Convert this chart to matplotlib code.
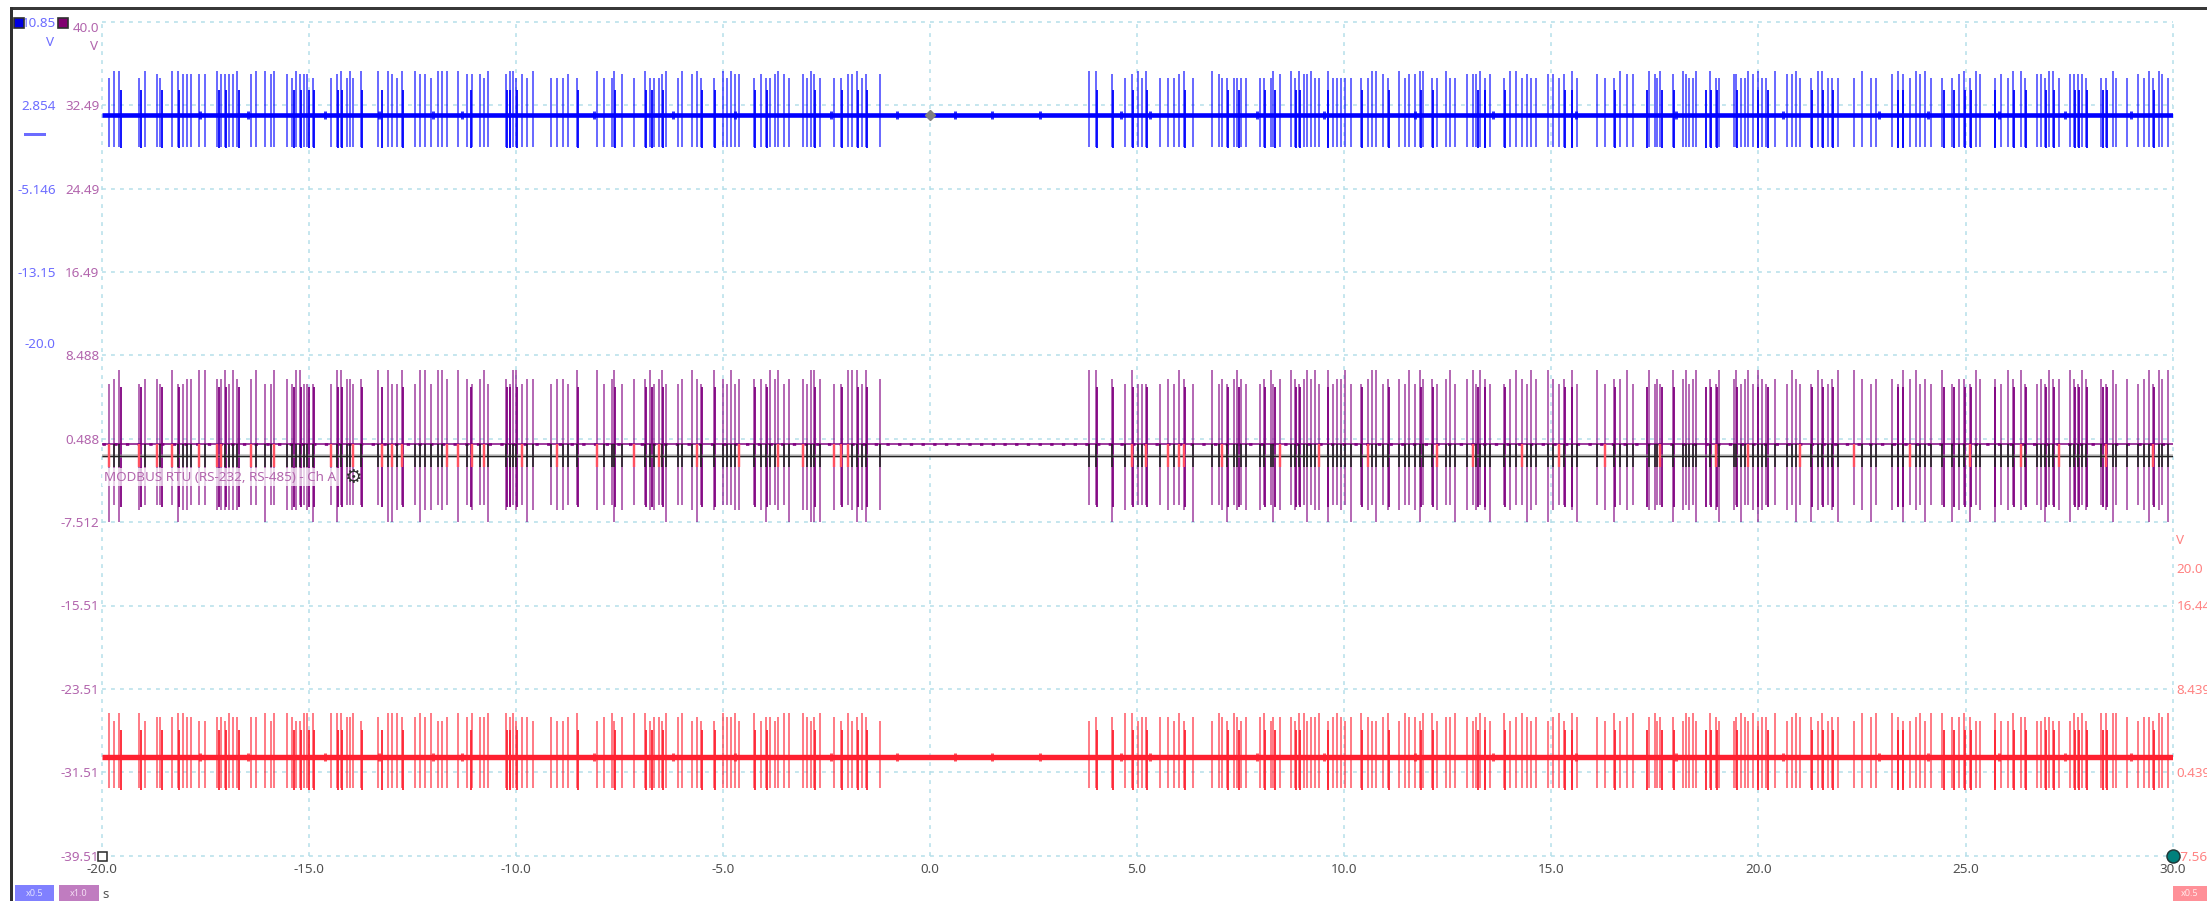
import matplotlib
matplotlib.use('Agg')
import matplotlib.pyplot as plt
from matplotlib.patches import Rectangle

W = 2207
H = 901

# pulse times in seconds, one line per burst
tall_times = [
    -19.81, -19.69, -19.57, -19.09, -18.95, -18.67, -18.58, -18.31, -18.15, -18.04, -17.93, -17.83, -17.65, -17.50,
    -17.20, -17.12, -17.02, -16.92, -16.83, -16.72,
    -16.40, -16.27, -16.05, -15.91, -15.83,
    -15.53, -15.39, -15.30, -15.22, -15.11, -15.04, -14.90,
    -14.47, -14.32, -14.23, -14.08, -14.00, -13.92, -13.74,
    -13.33, -13.09, -12.98, -12.87, -12.75,
    -12.42, -12.31, -12.19, -12.05, -11.88, -11.77, -11.67,
    -11.39, -11.17, -11.05, -10.86, -10.76, -10.66,
    -10.24, -10.15, -10.07, -10.00, -9.86, -9.72, -9.58,
    -9.16, -9.00, -8.85, -8.74, -8.52,
    -8.03, -7.88, -7.68, -7.63, -7.44, -7.15,
    -6.89, -6.75, -6.66, -6.55, -6.46, -6.37,
    -6.08, -5.99, -5.75, -5.63, -5.53,
    -5.21, -5.00, -4.91, -4.80, -4.70, -4.60,
    -4.24, -4.08, -3.96, -3.85, -3.74, -3.66, -3.52, -3.40,
    -3.07, -2.97, -2.88, -2.80, -2.66,
    -2.32, -2.15, -1.99, -1.88, -1.77, -1.63, -1.55, -1.21,
    3.85, 4.01, 4.40, 4.71,
    4.88, 5.01, 5.12, 5.21,
    5.56, 5.74, 5.88, 6.01, 6.13, 6.35,
    6.82, 6.97, 7.06, 7.17, 7.33, 7.42, 7.50, 7.63,
    7.96, 8.06, 8.24, 8.29, 8.44,
    8.71, 8.81, 8.91, 9.03, 9.10, 9.21, 9.29, 9.39,
    9.60, 9.74, 9.83, 9.92, 10.02, 10.16,
    10.41, 10.57, 10.66, 10.76, 10.94, 11.05,
    11.32, 11.47, 11.57, 11.71, 11.82, 11.91,
    12.12, 12.24, 12.46, 12.56, 12.68,
    12.96, 13.10, 13.18, 13.27, 13.39, 13.52,
    13.85, 14.01, 14.15, 14.29, 14.41, 14.51, 14.63,
    14.93, 15.04, 15.19, 15.31, 15.49, 15.63,
    16.11, 16.30, 16.52, 16.66, 16.82, 16.96, 17.35,
    17.50, 17.56, 17.63, 17.94, 18.17, 18.26, 18.33, 18.42, 18.49,
    18.83, 18.97, 19.05,
    19.42, 19.46, 19.58, 19.67, 19.75, 19.86, 19.98, 20.08, 20.19,
    20.41, 20.69, 20.81, 20.91, 21.01,
    21.27, 21.43, 21.54, 21.69, 21.77, 21.92,
    22.30, 22.51, 22.71, 22.83,
    23.23, 23.36, 23.48, 23.67, 23.81, 23.91, 24.03, 24.16,
    24.44, 24.68, 24.84, 24.97, 25.10, 25.24, 25.36,
    25.70, 25.86, 26.02, 26.14, 26.33, 26.44,
    26.72, 26.83, 26.92, 27.02, 27.11, 27.25,
    27.53, 27.62, 27.72, 27.82, 27.91,
    28.27, 28.40, 28.56, 28.64, 28.89,
    29.17, 29.31, 29.42, 29.52, 29.67, 29.75, 29.89,
]
short_times = [
    -19.54, -19.05, -18.55, -18.12, -17.16, -17.00, -16.69, -15.35, -15.18, -15.00, -14.86,
    -14.30, -14.19, -13.72, -13.23, -12.72, -11.08, -10.22, -10.13, -9.98, -8.49, -7.61,
    -6.86, -6.71, -6.44, -5.51, -5.18, -4.22, -3.93, -2.77, -2.13, -1.74, -1.52,
    4.04, 4.43, 4.90, 5.23, 6.16, 7.19, 7.45, 8.08, 8.32, 8.84, 8.94, 9.62, 10.43, 11.08,
    11.86, 12.15, 13.22, 13.41, 13.88, 15.34, 15.51, 16.54, 17.32, 17.66, 17.96, 18.73,
    18.86, 19.00, 19.49, 20.00, 20.22, 21.30, 21.56, 21.81, 23.38, 23.50, 24.47, 24.72,
    24.99, 25.14, 25.72, 26.17, 26.47, 26.95, 27.13, 27.64, 27.74, 27.94, 28.31, 28.42, 29.55,
]
# decoded frames flagged red in the protocol row
red_marks = [
    -19.81, -19.09, -18.67, -18.31, -17.65, -17.20, -17.12, -16.40, -15.83, -14.47, -13.92,
    -13.23, -12.98, -12.75, -11.67, -11.39, -11.05, -10.76, -9.86, -9.00, -8.03, -7.15,
    -6.55, -5.63, -4.60, -3.66, -3.07, -2.32, -2.15, -1.99, 4.88, 5.21, 5.74, 6.01, 6.13,
    7.06, 8.44, 9.39, 10.57, 12.24, 13.10, 14.29, 15.19, 16.30, 17.63, 18.97, 19.75, 21.01,
    22.30, 23.67, 25.10, 26.33, 27.25, 28.40, 29.52,
]
# small bumps on the idle level
bump_times = [
    -17.62, -16.46, -14.60, -13.30, -12.00, -11.30, -8.10, -6.20, -4.70, -2.40, -0.80,
    0.60, 1.50, 2.66, 4.60, 5.30, 7.90, 9.50, 11.70, 13.60, 15.60, 18.00, 20.60, 22.90,
    24.10, 25.80, 27.40, 29.00,
]

# pulse height class per tall pulse (0 low, 1 mid, 2 high), same order as tall_times
blue_up = ("02202102211111" "211112" "12212" "1021110" "0120202" "22102" "2110222" "211102"
           "1220102" "00010" "200210" "200012" "02120" "020211" "01001210" "10210" "00112011"
           "2210" "1202" "000120" "21000000" "00021" "20211200" "200000" "002210" "201122"
           "00200" "111201" "0220100" "110120" "1002112" "102121002" "200" "110021200"
           "21120" "022000" "0200" "12102120" "0012021" "010220" "110220" "11110" "00200" "1020210")
purple_up = ("01201102001122" "112021" "12002" "1022000" "0221101" "22002" "0220221" "210120"
             "1022011" "01102" "201201" "120120" "01210" "210201" "11021201" "10221" "00222021"
             "2210" "2000" "010210" "20101210" "01201" "21012120" "201120" "012201" "102021"
             "10120" "120210" "0121021" "210120" "2011202" "010212012" "102" "120120210"
             "10210" "021012" "2101" "10212010" "2011021" "102120" "010211" "21021" "10201" "0120212")
purple_down = ("20210000211000" "111111" "00200" "1110012" "0200000" "02210" "0211010" "201002"
               "1001021" "01100" "100210" "011002" "00120" "100011" "01200102" "11222" "10012121"
               "0021" "0000" "010012" "00120101" "10021" "01002011" "200102" "010201" "100120"
               "01002" "101012" "0100210" "210012" "0120101" "100210102" "012" "102001210"
               "01020" "210012" "0120" "10201020" "0210201" "201010" "012001" "20101" "01201" "0120102")
red_up = ("20220111221100" "110211" "11202" "2100222" "2221120" "12221" "1212001" "212112"
          "2120110" "10012" "012012" "201102" "12010" "021120" "20110122" "21012" "10201210"
          "0112" "2011" "110201" "02102101" "12011" "10220112" "012101" "210012" "021102"
          "20112" "101210" "2012101" "012021" "1020121" "201102120" "210" "012102011"
          "20121" "102011" "0212" "21001202" "2112100" "200211" "001100" "02120" "22221" "0110212")

# volts for the height classes
blue_base = 1.90
blue_tall = [3.55, 3.93, 4.25]
blue_short = 2.4
blue_drop = 3.05
purple_base = -0.02
purple_tall = [5.8, 6.2, 7.1]
purple_short = 5.5
purple_drops = [5.85, 6.35, 7.5]
red_base = 1.88
red_tall = [3.5, 3.85, 4.28]
red_short = 2.6
red_drop = 2.9
decode_level = -1.14
decode_low = -2.23

x_ticks = [-20, -15, -10, -5, 0, 5, 10, 15, 20, 25, 30]
x_labels = ['-20.0', '-15.0', '-10.0', '-5.0', '0.0', '5.0', '10.0', '15.0', '20.0', '25.0', '30.0']
grid_y = [40.488, 32.488, 24.488, 16.488, 8.488, 0.488, -7.512, -15.512, -23.512, -31.512, -39.512]
purple_ticks = [40.0, 32.488, 24.488, 16.488, 8.488, 0.488, -7.512, -15.512, -23.512, -31.512, -39.512]
purple_labels = ['40.0', '32.49', '24.49', '16.49', '8.488', '0.488', '-7.512', '-15.51', '-23.51', '-31.51', '-39.51']
blue_ticks = [10.854, 2.854, -5.146, -13.146, -20.0]
blue_labels = ['10.85', '2.854', '-5.146', '-13.15', '-20.0']
red_ticks = [20.0, 16.439, 8.439, 0.439, -7.561]
red_labels = ['20.0', '16.44', '8.439', '0.439', '-7.56']

plt.rcParams['font.family'] = ['Noto Sans', 'DejaVu Sans']
FS = 9.7
PX = 0.72  # one pixel in points at dpi 100


def fig_box(fig, x0, y0, x1, y1, **kw):
    # window chrome, given in image pixels from the top left
    r = Rectangle((x0 / W, 1 - y1 / H), (x1 - x0) / W, (y1 - y0) / H, transform=fig.transFigure, **kw)
    fig.add_artist(r)


def fig_text(fig, x, y, s, **kw):
    fig.text(x / W, 1 - y / H, s, **kw)


def draw_channel(ax, base, color, ups, tall_h, short_h, downs, short_down, band_px):
    ax.plot([-20, 30], [base, base], color=color, lw=band_px * PX, solid_capstyle='butt', zorder=3)
    tops = [base + tall_h[int(c)] for c in ups]
    bots = [base - d for d in downs]
    ax.vlines(tall_times, bots, tops, color=color, lw=2 * PX, alpha=0.58, zorder=2)
    ax.vlines(short_times, base - short_down, base + short_h, color=color, lw=2 * PX, alpha=0.9, zorder=2)


fig = plt.figure(figsize=(W / 100, H / 100), dpi=100, facecolor='white')
rect = [101.5 / W, 1 - 855.7 / H, (2172.7 - 101.5) / W, (855.7 - 21.7) / H]

ax = fig.add_axes(rect)
ax.set_xlim(-20, 30)
ax.set_ylim(-39.512, 40.488)
for s in ax.spines.values():
    s.set_visible(False)
grid_style = dict(color='#b4dfe9', lw=1.5 * PX, linestyles=(0, (2.6, 3.4)), clip_on=False, zorder=1)
ax.hlines(grid_y, -20, 30, **grid_style)
ax.vlines(x_ticks, -39.512, 40.488, **grid_style)
ax.set_xticks(x_ticks)
ax.set_xticklabels(x_labels, fontsize=FS, color='#505050')
ax.tick_params(axis='x', length=0, pad=5.5)
ax.set_yticks(purple_ticks)
ax.set_yticklabels(purple_labels, fontsize=FS, color='#b265ad')
ax.tick_params(axis='y', length=0, pad=1.5)

ax_blue = ax.twinx()
ax_blue.set_ylim(-69.146, 10.854)
ax_blue.yaxis.tick_left()
ax_blue.set_yticks(blue_ticks)
ax_blue.set_yticklabels(blue_labels, fontsize=FS, color='#6c6cff')
ax_blue.tick_params(axis='y', length=0, pad=33)
ax_blue.patch.set_visible(False)

ax_red = ax.twinx()
ax_red.set_ylim(-7.561, 72.439)
ax_red.yaxis.tick_right()
ax_red.set_yticks(red_ticks)
ax_red.set_yticklabels(red_labels, fontsize=FS, color='#ff8282')
ax_red.tick_params(axis='y', length=0, pad=3)
ax_red.patch.set_visible(False)
for a in (ax_blue, ax_red):
    for s in a.spines.values():
        s.set_visible(False)

draw_channel(ax_blue, blue_base, '#0000ff', blue_up, blue_tall, blue_short,
             [blue_drop] * len(blue_up), 3.2, 4.6)
ax_blue.vlines(bump_times, blue_base - 0.36, blue_base + 0.4, color='#0000ff', lw=3 * PX, alpha=0.8, zorder=3)

draw_channel(ax_red, red_base, '#ff2030', red_up, red_tall, red_short,
             [red_drop] * len(red_up), 3.1, 5.4)
ax_red.vlines(bump_times, red_base - 0.4, red_base + 0.44, color='#ff2030', lw=3 * PX, alpha=0.8, zorder=3)

draw_channel(ax, purple_base, '#800080', purple_up, purple_tall, purple_short,
             [purple_drops[int(c)] for c in purple_down], 6.0, 1.5)
ax.plot([-20, 30], [purple_base, purple_base], color='#800080', lw=2.6 * PX,
        linestyle=(0, (1.3, 3.2)), zorder=3)

# protocol decode row sits on top of everything
ax_dec = ax.twinx()
ax_dec.set_ylim(-39.512, 40.488)
ax_dec.axis('off')
ax_dec.plot([-20, 30], [decode_level, decode_level], color='#909090', lw=3.5 * PX, alpha=0.6, solid_capstyle='butt')
ax_dec.plot([-20, 30], [decode_level, decode_level], color='#202020', lw=1.2 * PX, solid_capstyle='butt')
ax_dec.vlines(tall_times, decode_low, purple_base, color='#202020', lw=2 * PX, alpha=0.8)
ax_dec.vlines(red_marks, decode_low, purple_base, color='#ff5060', lw=2.4 * PX)
ax_dec.text(-19.93, -3.2, 'MODBUS RTU (RS-232, RS-485) - Ch A', fontsize=FS, color='#b265ad', va='center',
            bbox=dict(facecolor='white', edgecolor='none', alpha=0.72, pad=1.8))
ax_dec.text(-13.94, -3.2, '\u2699', fontsize=14, color='#303030', va='center', ha='center', family='DejaVu Sans')
# cursors
ax_dec.plot([-20], [-39.512], marker='s', ms=9 * PX, mfc='white', mec='#303030', mew=1.6 * PX, clip_on=False)
ax_dec.plot([30], [-39.512], marker='o', ms=13 * PX, mfc='#00807c', mec='#203838', mew=1.5 * PX, clip_on=False)
ax_dec.plot([0], [31.54], marker='D', ms=7 * PX, mfc='#808080', mec='#808080', clip_on=False)

# window frame
fig_box(fig, 10, 7, W, 10, facecolor='#383838', edgecolor='none')
fig_box(fig, 10, 7, 12.7, H, facecolor='#303030', edgecolor='none')
# channel squares and units
fig_box(fig, 14, 18, 24, 28, facecolor='#0000e0', edgecolor='#303030', lw=1.2)
fig_box(fig, 58, 18, 68, 28, facecolor='#800070', edgecolor='#303030', lw=1.2)
fig_text(fig, 50, 43, 'V', fontsize=FS, color='#6c6cff', ha='center', va='center')
fig_text(fig, 94, 47, 'V', fontsize=FS, color='#b265ad', ha='center', va='center')
fig_text(fig, 2180, 540, 'V', fontsize=FS, color='#ff8282', ha='center', va='center')
fig_box(fig, 24, 133.5, 46, 135.5, facecolor='#6c6cff', edgecolor='none')
# scale chips
fig_box(fig, 15, 885, 54, 901, facecolor='#8080ff', edgecolor='none')
fig_box(fig, 59, 885, 99, 901, facecolor='#c07cc0', edgecolor='none')
fig_box(fig, 2173, 886, W, 901, facecolor='#ff9098', edgecolor='none')
fig_text(fig, 34.5, 894, 'x0.5', fontsize=6.5, color='#e0e0ff', ha='center', va='center')
fig_text(fig, 79, 894, 'x1.0', fontsize=6.5, color='#f4e0f4', ha='center', va='center')
fig_text(fig, 2190, 894, 'x0.5', fontsize=6.5, color='#ffe8e8', ha='center', va='center')
fig_text(fig, 106, 894, 's', fontsize=FS, color='#505050', ha='center', va='center')

fig.savefig('out.png', dpi=100, facecolor='white')
